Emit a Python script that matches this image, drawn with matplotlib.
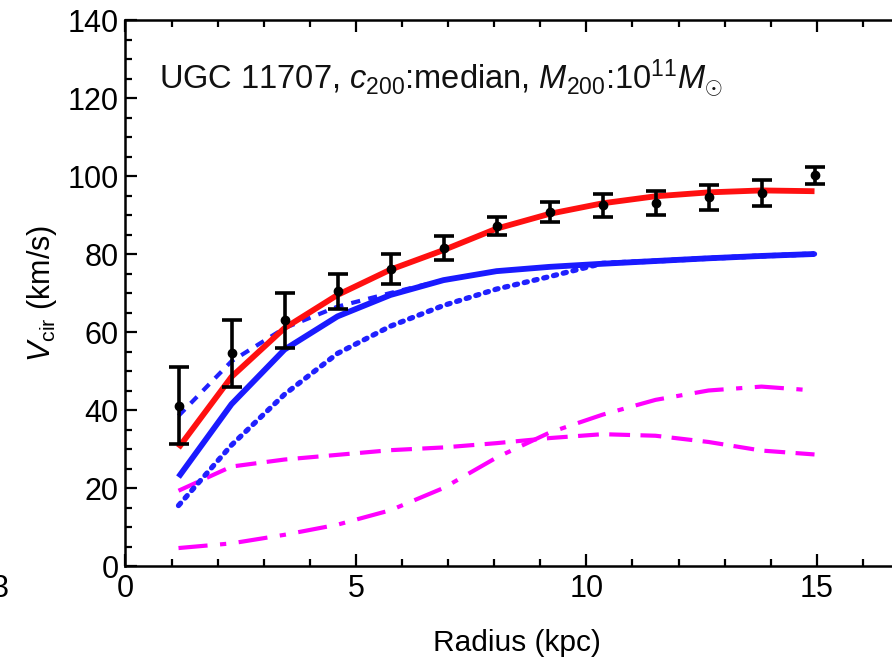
import matplotlib
matplotlib.use("Agg")
import matplotlib.pyplot as plt
import numpy as np

plt.rcParams['font.family'] = ['Liberation Sans', 'DejaVu Sans']
plt.rcParams['mathtext.fontset'] = 'custom'
plt.rcParams['mathtext.rm'] = 'Liberation Sans'
plt.rcParams['mathtext.it'] = 'Liberation Sans:italic'
plt.rcParams['mathtext.bf'] = 'Liberation Sans:bold'

# rotation curve of UGC 11707 (radius in kpc, velocities in km/s)
radius = [1.15, 2.3, 3.45, 4.6, 5.75, 6.9, 8.05, 9.2, 10.35, 11.5, 12.65, 13.8, 14.95]
v_obs = [41.1, 54.5, 63.0, 70.5, 76.2, 81.5, 87.2, 90.8, 92.5, 93.1, 94.5, 95.7, 100.2]
v_err = [9.8, 8.5, 7.0, 4.5, 3.8, 3.0, 2.4, 2.6, 3.0, 3.0, 3.2, 3.3, 2.2]

v_total = [30.3, 48.5, 61.0, 69.5, 76.0, 81.0, 86.5, 90.3, 93.0, 94.8, 95.8, 96.3, 96.1]
v_halo = [22.8, 41.5, 55.5, 64.0, 69.5, 73.3, 75.6, 76.7, 77.5, 78.2, 78.9, 79.5, 80.0]
v_halo_dash = [38.5, 52.5, 61.0, 66.5, 70.0, 73.3, 75.6, 76.7, 77.5, 78.2, 78.9, 79.5, 80.0]
v_halo_star = [15.5, 31.0, 44.0, 54.5, 61.5, 66.8, 71.0, 74.2, 77.6, 78.2, 78.9, 79.5, 80.0]
v_gas = [19.3, 25.5, 27.3, 28.5, 29.7, 30.4, 31.5, 32.8, 33.8, 33.4, 31.8, 29.6, 28.6]
v_disk = [4.6, 5.8, 8.0, 10.6, 14.3, 20.0, 27.8, 34.2, 38.8, 42.6, 45.0, 46.0, 45.0]

fig = plt.figure(figsize=(8.92, 6.6), dpi=100)
ax = fig.add_axes([125.5 / 892, 94 / 660, 783.5 / 892, 546 / 660])

magenta = '#ff00ff'
ax.plot(radius, v_disk, color=magenta, lw=3, dashes=(7, 3, 1.5, 3))
ax.plot(radius, v_gas, color=magenta, lw=3, dashes=(5, 2.5))
ax.plot(radius, v_halo_star, color='#2020ff', lw=3.8, dashes=(0.6, 1.3),
        dash_capstyle='round')
ax.plot(radius, v_halo_dash, color='#2020ff', lw=3, dashes=(2.2, 2.0))
ax.plot(radius, v_halo, color='#1a1aff', lw=4.2, solid_capstyle='butt')
ax.plot(radius, v_total, color='#ff1010', lw=4.2, solid_capstyle='butt')

ax.errorbar(radius, v_obs, yerr=v_err, fmt='o', color='black', ms=6,
            elinewidth=2.6, capsize=7, capthick=2.6, zorder=5)

ax.text(0.72, 122.3, r'UGC 11707, $c_{200}$:median, $M_{200}$:$10^{11}M_{\odot}$',
        fontsize=23.5, va='baseline', ha='left', color='#111111')

ax.set_xlim(0, 17)
ax.set_ylim(0, 140)
ax.set_xticks([0, 5, 10, 15])
ax.set_xticks(np.arange(0, 18, 1), minor=True)
ax.set_yticks(np.arange(0, 141, 20))
ax.set_yticks(np.arange(0, 141, 5), minor=True)
ax.tick_params(which='both', direction='in', top=True, right=False,
               labelsize=22, width=1.6, pad=6)
ax.tick_params(axis='y', which='both', pad=5)
ax.tick_params(which='major', length=8.5)
ax.tick_params(which='minor', length=5)
for side in ['left', 'bottom', 'top']:
    ax.spines[side].set_linewidth(1.8)
ax.spines['right'].set_visible(False)

ax.set_xlabel('Radius (kpc)', fontsize=21.5, labelpad=18)
ax.set_ylabel(r'$V_{\mathrm{cir}}$ (km/s)', fontsize=22, labelpad=6)

# edge of the neighbouring panel's tick label
fig.text(9 / 892, 1 - 589 / 660, '3', fontsize=22, ha='right', va='center')

fig.savefig('out.png', dpi=100)
